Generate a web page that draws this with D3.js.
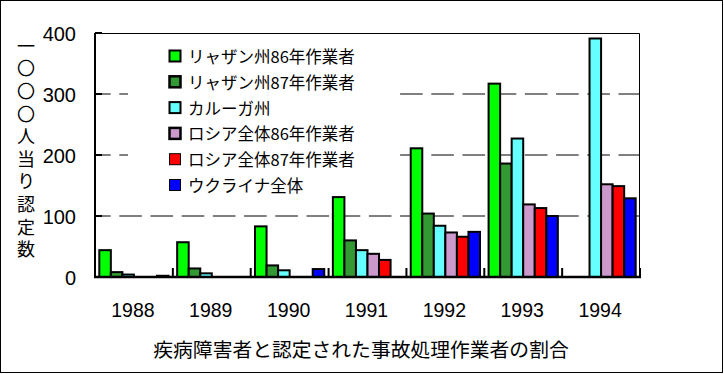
<!DOCTYPE html>
<html>
<head>
<meta charset="utf-8">
<script src="https://cdn.jsdelivr.net/npm/d3@7"></script>
<style>
  body { margin: 0; background: #fff; }
  text { font-family: "Liberation Sans", Arial, sans-serif; fill: #000; }
  .jp { font-family: "Noto Sans CJK JP", sans-serif; }
</style>
</head>
<body>
<svg id="chart" width="724" height="374"></svg>
<script>
const years = ["1988", "1989", "1990", "1991", "1992", "1993", "1994"];
const seriesNames = [
  "リャザン州86年作業者",
  "リャザン州87年作業者",
  "カルーガ州",
  "ロシア全体86年作業者",
  "ロシア全体87年作業者",
  "ウクライナ全体"
];
const ryazan86 = [44, 57, 83, 131, 211, 317, null];
const ryazan87 = [8, 14, 19, 60, 104, 186, null];
const kaluga = [4, 6, 11, 44, 84, 227, 391];
const russia86 = [null, null, null, 38, 73, 119, 152];
const russia87 = [null, null, null, 28, 66, 113, 149];
const ukraine = [2, null, 13, null, 74, 100, 129];
const yTicks = [0, 100, 200, 300, 400];
const yTitle = "一〇〇〇人当り認定数";
const xTitle = "疾病障害者と認定された事故処理作業者の割合";

const colors = ["#00ff00", "#339933", "#66ffff", "#cc99cc", "#ff0000", "#0000ff"];
const swatchStroke = [2, 2.5, 2, 2.5, 1, 1];
const values = [ryazan86, ryazan87, kaluga, russia86, russia87, ukraine];

const svg = d3.select("#chart");
const plotL = 95, plotR = 640, plotT = 33, plotB = 277;

svg.append("rect")
  .attr("x", 0.5).attr("y", 0.5)
  .attr("width", 722).attr("height", 372)
  .attr("fill", "#fff").attr("stroke", "#000");

const x = d3.scaleBand().domain(years).range([plotL, plotR]);
const xs = d3.scaleBand().domain(d3.range(seriesNames.length))
  .range([4.3, x.bandwidth() - 4.3]);
const y = d3.scaleLinear().domain([0, 400]).range([plotB, plotT]);

// gridlines
svg.append("g")
  .selectAll("line")
  .data(yTicks.filter(d => d > 0 && d < 400))
  .enter()
  .append("line")
  .attr("x1", plotL).attr("x2", plotR)
  .attr("y1", d => y(d)).attr("y2", d => y(d))
  .attr("stroke", "#000")
  .attr("stroke-dasharray", "22.6 8.6")
  .attr("stroke-dashoffset", 6.9);

// frame top / right
svg.append("path")
  .attr("d", `M${plotL},${plotT + 0.5}H${plotR - 0.5}V${plotB}`)
  .attr("fill", "none").attr("stroke", "#000");

// legend background
svg.append("rect")
  .attr("x", 128).attr("y", 36)
  .attr("width", 271).attr("height", 158)
  .attr("fill", "#fff");

// bars
const rows = [];
years.forEach((yr, i) => {
  values.forEach((arr, s) => {
    if (arr[i] != null) rows.push({ year: yr, s: s, v: arr[i] });
  });
});

svg.append("g")
  .selectAll("rect")
  .data(rows)
  .enter()
  .append("rect")
  .attr("x", d => x(d.year) + xs(d.s))
  .attr("width", xs.bandwidth())
  .attr("y", d => y(d.v))
  .attr("height", d => y(0) - y(d.v))
  .attr("fill", d => colors[d.s])
  .attr("stroke", "#000")
  .attr("stroke-width", 2);

// axes
svg.append("line")
  .attr("x1", plotL).attr("x2", plotL)
  .attr("y1", plotT).attr("y2", plotB + 1)
  .attr("stroke", "#000").attr("stroke-width", 2);
svg.append("line")
  .attr("x1", plotL - 1).attr("x2", plotR + 1)
  .attr("y1", plotB).attr("y2", plotB)
  .attr("stroke", "#000").attr("stroke-width", 2.5);

// y ticks
svg.append("g")
  .selectAll("line")
  .data(yTicks)
  .enter()
  .append("line")
  .attr("x1", plotL).attr("x2", plotL + 7)
  .attr("y1", d => y(d)).attr("y2", d => y(d))
  .attr("stroke", "#000").attr("stroke-width", 2);

svg.append("g")
  .selectAll("text")
  .data(yTicks)
  .enter()
  .append("text")
  .attr("x", 76)
  .attr("y", d => y(d) + 1)
  .attr("text-anchor", "end")
  .attr("dominant-baseline", "central")
  .style("font-size", "20px")
  .text(d => d);

// x ticks at category boundaries
svg.append("g")
  .selectAll("line")
  .data(years.slice(1).concat(["end"]))
  .enter()
  .append("line")
  .attr("x1", d => d === "end" ? plotR : x(d))
  .attr("x2", d => d === "end" ? plotR : x(d))
  .attr("y1", plotB - 9).attr("y2", plotB)
  .attr("stroke", "#000").attr("stroke-width", 2);

svg.append("g")
  .selectAll("text")
  .data(years)
  .enter()
  .append("text")
  .attr("x", d => x(d) + x.bandwidth() / 2 - 1)
  .attr("y", 310)
  .attr("text-anchor", "middle")
  .attr("dominant-baseline", "central")
  .style("font-size", "19.5px")
  .text(d => d);

// y title, vertical writing
svg.append("text")
  .attr("class", "jp")
  .attr("x", 26)
  .attr("y", 37)
  .style("writing-mode", "vertical-rl")
  .style("font-size", "18px")
  .style("letter-spacing", "4.6px")
  .text(yTitle);

// x title
svg.append("text")
  .attr("class", "jp")
  .attr("x", 361)
  .attr("y", 348)
  .attr("text-anchor", "middle")
  .attr("dominant-baseline", "central")
  .style("font-size", "19.8px")
  .text(xTitle);

// legend
const legend = svg.append("g")
  .selectAll("g")
  .data(seriesNames)
  .enter()
  .append("g")
  .attr("transform", (d, i) => `translate(169,${56 + i * 25.8})`);

legend.append("rect")
  .attr("x", 0.5).attr("y", -5.5)
  .attr("width", 11).attr("height", 11)
  .attr("fill", (d, i) => colors[i])
  .attr("stroke", "#000")
  .attr("stroke-width", (d, i) => swatchStroke[i]);

legend.append("text")
  .attr("class", "jp")
  .attr("x", 19)
  .attr("y", 0)
  .attr("dominant-baseline", "central")
  .style("font-size", "16.5px")
  .text(d => d);
</script>
</body>
</html>
